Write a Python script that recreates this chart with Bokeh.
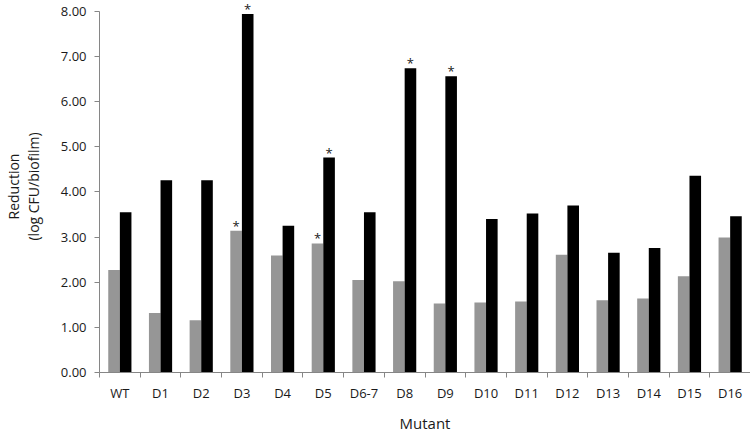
import numpy as np
from bokeh.plotting import figure
from bokeh.models import Range1d, FixedTicker, NumeralTickFormatter, ColumnDataSource
from bokeh.transform import dodge
from bokeh.core.properties import value
from bokeh.embed import file_html
from bokeh.resources import INLINE

categories = ["WT", "D1", "D2", "D3", "D4", "D5", "D6-7", "D8", "D9", "D10",
              "D11", "D12", "D13", "D14", "D15", "D16"]
gray_values = [2.27, 1.32, 1.16, 3.14, 2.59, 2.86, 2.05, 2.02, 1.53, 1.55,
               1.57, 2.61, 1.60, 1.64, 2.13, 2.99]
black_values = [3.55, 4.26, 4.26, 7.94, 3.25, 4.76, 3.55, 6.74, 6.56, 3.40,
                3.52, 3.70, 2.65, 2.76, 4.36, 3.46]
gray_sig = [False, False, False, True, False, True, False, False, False, False,
            False, False, False, False, False, False]
black_sig = [False, False, False, True, False, True, False, True, True, False,
             False, False, False, False, False, False]
y_ticks = [0, 1, 2, 3, 4, 5, 6, 7, 8]

FONT = "Open Sans"
TEXT = "#1a1a1a"
AXIS = "#868686"
BAR_W = 0.285

n = len(categories)
centers = [i + 0.5 for i in range(n)]
src = ColumnDataSource(dict(x=centers, g=gray_values, b=black_values))

p = figure(width=750, height=435, output_backend="svg", toolbar_location=None,
           x_range=Range1d(0, n), y_range=Range1d(0, 8.24),
           min_border_left=90, min_border_right=0, min_border_top=0,
           min_border_bottom=59)
p.outline_line_color = None
p.xgrid.visible = False
p.ygrid.visible = False
p.background_fill_color = "white"
p.border_fill_color = "white"

p.vbar(x=dodge("x", -BAR_W / 2, range=p.x_range), top="g", width=BAR_W,
       source=src, fill_color="#969696", line_color=None)
p.vbar(x=dodge("x", BAR_W / 2, range=p.x_range), top="b", width=BAR_W,
       source=src, fill_color="#000000", line_color=None)

gx = [c - BAR_W / 2 for c, s in zip(centers, gray_sig) if s]
gy = [v for v, s in zip(gray_values, gray_sig) if s]
bx = [c + BAR_W / 2 for c, s in zip(centers, black_sig) if s]
by = [v for v, s in zip(black_values, black_sig) if s]
star_src = ColumnDataSource(dict(x=gx + bx, y=gy + by, t=["*"] * (len(gx) + len(bx))))
p.text(x="x", y="y", text="t", source=star_src, text_font=value(FONT),
       text_font_size="13px", text_align="center", text_baseline="alphabetic",
       y_offset=-5, text_color=TEXT)

# x axis: labels at centers, ticks at category boundaries
xa = p.xaxis[0]
xa.ticker = FixedTicker(ticks=centers, minor_ticks=list(range(n + 1)))
xa.major_label_overrides = {c: lab for c, lab in zip(centers, categories)}
xa.major_tick_line_color = None
xa.minor_tick_in = 0
xa.minor_tick_out = 5
xa.minor_tick_line_color = AXIS
xa.axis_line_color = AXIS
xa.major_label_text_font = FONT
xa.major_label_text_font_size = "13px"
xa.major_label_text_color = TEXT
xa.major_label_standoff = 5
xa.axis_label = "Mutant"
xa.axis_label_text_font = FONT
xa.axis_label_text_font_size = "15px"
xa.axis_label_text_font_style = "normal"
xa.axis_label_text_color = TEXT
xa.axis_label_standoff = 8

ya = p.yaxis[0]
ya.ticker = FixedTicker(ticks=y_ticks, minor_ticks=[])
ya.formatter = NumeralTickFormatter(format="0.00")
ya.bounds = (0, 8)
ya.major_tick_in = 0
ya.major_tick_out = 5
ya.major_tick_line_color = AXIS
ya.minor_tick_line_color = None
ya.axis_line_color = AXIS
ya.major_label_text_font = FONT
ya.major_label_text_font_size = "13px"
ya.major_label_text_color = TEXT
ya.major_label_standoff = 8
ya.axis_label = "Reduction\n(log CFU/biofilm)"
ya.axis_label_text_font = FONT
ya.axis_label_text_font_size = "14px"
ya.axis_label_text_line_height = 1.05
ya.axis_label_text_font_style = "normal"
ya.axis_label_text_color = TEXT
ya.axis_label_standoff = 15

open("out.html", "w").write(file_html(p, INLINE))
